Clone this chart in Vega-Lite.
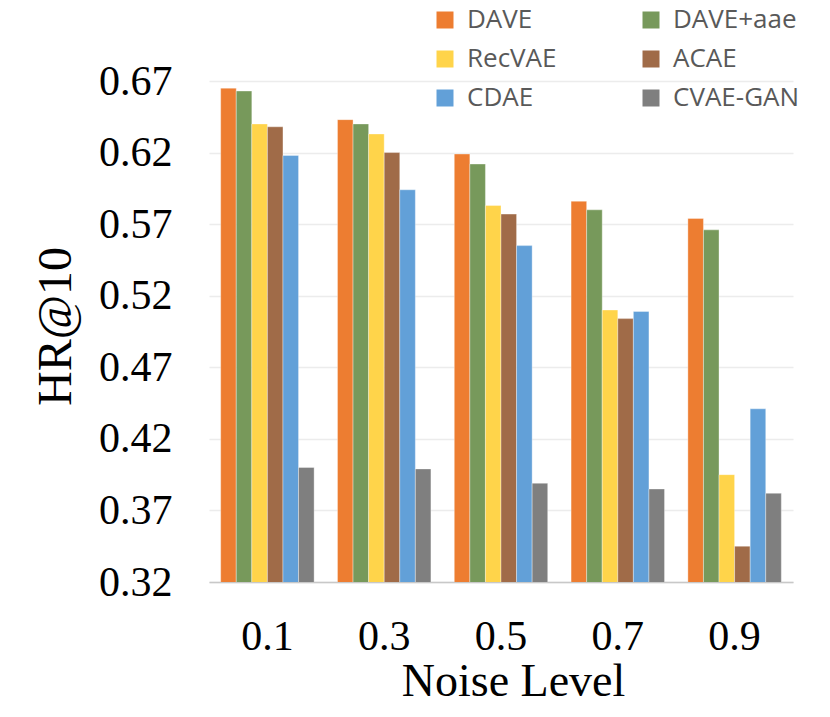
{
  "$schema": "https://vega.github.io/schema/vega-lite/v6.json",
  "autosize": "none",
  "padding": {"left": 209, "top": 81, "right": 37, "bottom": 135},
  "width": 584,
  "height": 501,
  "background": "white",
  "config": {
    "view": {"stroke": null},
    "font": "Liberation Serif"
  },
  "data": {
    "values": [
      {"noise": "0.1", "method": "DAVE", "hr": 0.665},
      {"noise": "0.1", "method": "DAVE+aae", "hr": 0.663},
      {"noise": "0.1", "method": "RecVAE", "hr": 0.640},
      {"noise": "0.1", "method": "ACAE", "hr": 0.638},
      {"noise": "0.1", "method": "CDAE", "hr": 0.618},
      {"noise": "0.1", "method": "CVAE-GAN", "hr": 0.400},
      {"noise": "0.3", "method": "DAVE", "hr": 0.643},
      {"noise": "0.3", "method": "DAVE+aae", "hr": 0.640},
      {"noise": "0.3", "method": "RecVAE", "hr": 0.633},
      {"noise": "0.3", "method": "ACAE", "hr": 0.620},
      {"noise": "0.3", "method": "CDAE", "hr": 0.594},
      {"noise": "0.3", "method": "CVAE-GAN", "hr": 0.399},
      {"noise": "0.5", "method": "DAVE", "hr": 0.619},
      {"noise": "0.5", "method": "DAVE+aae", "hr": 0.612},
      {"noise": "0.5", "method": "RecVAE", "hr": 0.583},
      {"noise": "0.5", "method": "ACAE", "hr": 0.577},
      {"noise": "0.5", "method": "CDAE", "hr": 0.555},
      {"noise": "0.5", "method": "CVAE-GAN", "hr": 0.389},
      {"noise": "0.7", "method": "DAVE", "hr": 0.586},
      {"noise": "0.7", "method": "DAVE+aae", "hr": 0.580},
      {"noise": "0.7", "method": "RecVAE", "hr": 0.510},
      {"noise": "0.7", "method": "ACAE", "hr": 0.504},
      {"noise": "0.7", "method": "CDAE", "hr": 0.509},
      {"noise": "0.7", "method": "CVAE-GAN", "hr": 0.385},
      {"noise": "0.9", "method": "DAVE", "hr": 0.574},
      {"noise": "0.9", "method": "DAVE+aae", "hr": 0.566},
      {"noise": "0.9", "method": "RecVAE", "hr": 0.395},
      {"noise": "0.9", "method": "ACAE", "hr": 0.345},
      {"noise": "0.9", "method": "CDAE", "hr": 0.441},
      {"noise": "0.9", "method": "CVAE-GAN", "hr": 0.382}
    ]
  },
  "mark": {"type": "bar", "clip": true, "stroke": "#ffffff", "strokeOpacity": 0.35, "strokeWidth": 1},
  "encoding": {
    "x": {
      "field": "noise",
      "type": "nominal",
      "sort": ["0.1", "0.3", "0.5", "0.7", "0.9"],
      "scale": {"paddingInner": 0.2, "paddingOuter": 0.1},
      "axis": {
        "title": "Noise Level",
        "titleFont": "Liberation Serif",
        "titleFontSize": 46,
        "titleFontWeight": "normal",
        "titleColor": "#000000",
        "titleX": 304,
        "titleY": 113,
        "titleBaseline": "alphabetic",
        "labelAngle": 0,
        "labelFont": "Liberation Serif",
        "labelFontSize": 42,
        "labelColor": "#000000",
        "labelPadding": 34,
        "ticks": false,
        "tickSize": 0,
        "domainColor": "#c8c8c8",
        "domainWidth": 1.5
      }
    },
    "xOffset": {
      "field": "method",
      "type": "nominal",
      "sort": ["DAVE", "DAVE+aae", "RecVAE", "ACAE", "CDAE", "CVAE-GAN"],
      "scale": {"paddingInner": 0, "paddingOuter": 0}
    },
    "y": {
      "field": "hr",
      "type": "quantitative",
      "scale": {"domain": [0.32, 0.67], "zero": false, "nice": false},
      "axis": {
        "title": "HR@10",
        "titleFont": "Liberation Serif",
        "titleFontSize": 48,
        "titleFontWeight": "normal",
        "titleColor": "#000000",
        "titleAngle": -90,
        "titleX": -139,
        "titleY": 245,
        "titleAlign": "center",
        "titleBaseline": "alphabetic",
        "values": [0.32, 0.37, 0.42, 0.47, 0.52, 0.57, 0.62, 0.67],
        "format": ".2f",
        "labelFont": "Liberation Serif",
        "labelFontSize": 42,
        "labelColor": "#000000",
        "labelPadding": 37,
        "ticks": false,
        "tickSize": 0,
        "domain": false,
        "gridColor": "#ececec",
        "gridWidth": 1.5
      }
    },
    "color": {
      "field": "method",
      "type": "nominal",
      "sort": ["DAVE", "DAVE+aae", "RecVAE", "ACAE", "CDAE", "CVAE-GAN"],
      "scale": {
        "domain": ["DAVE", "DAVE+aae", "RecVAE", "ACAE", "CDAE", "CVAE-GAN"],
        "range": ["#ED7D31", "#77995B", "#FFD44A", "#A06B48", "#62A0D8", "#7F7F7F"]
      },
      "legend": {
        "title": null,
        "orient": "none",
        "direction": "horizontal",
        "legendX": 223,
        "legendY": -74,
        "columns": 2,
        "padding": 0,
        "symbolType": "square",
        "symbolSize": 289,
        "symbolStrokeWidth": 0,
        "symbolOpacity": 1,
        "labelFont": "Open Sans",
        "labelFontSize": 26,
        "labelColor": "#595959",
        "labelOffset": 9,
        "labelLimit": 300,
        "rowPadding": 13,
        "columnPadding": 81
      }
    }
  }
}
